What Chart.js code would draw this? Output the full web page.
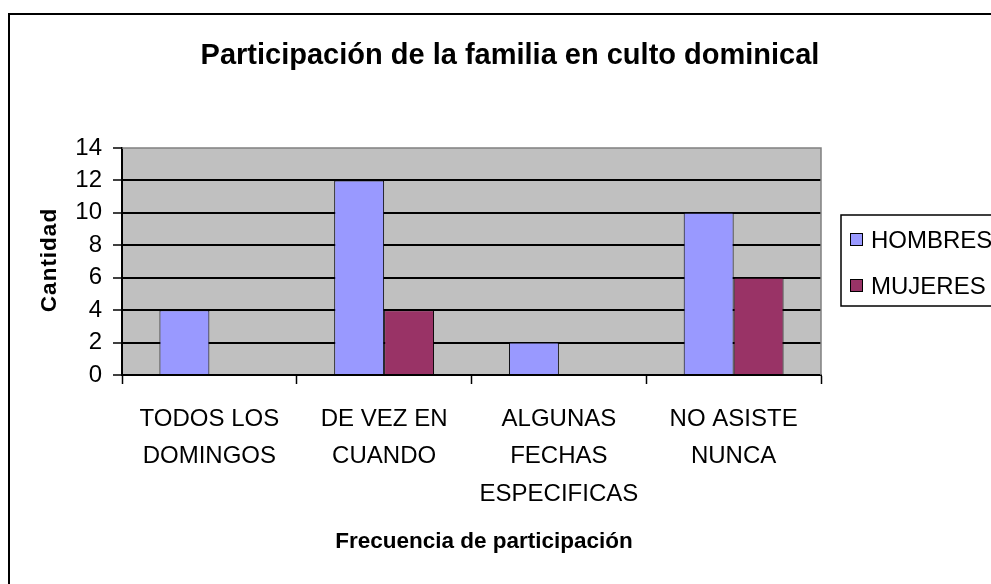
<!DOCTYPE html>
<html>
<head>
<meta charset="utf-8">
<script src="https://cdn.jsdelivr.net/npm/chart.js@4"></script>
<style>
  html, body { margin: 0; padding: 0; background: #fff; }
  #wrap { position: relative; width: 991px; height: 584px; }
</style>
</head>
<body>
<div id="wrap"><canvas id="barChart"></canvas></div>
<script>
/* DATA */
const chartTitle = 'Participación de la familia en culto dominical';
const xTitle = 'Frecuencia de participación';
const yTitle = 'Cantidad';
const categories = [
    ['TODOS LOS', 'DOMINGOS'],
    ['DE VEZ EN', 'CUANDO'],
    ['ALGUNAS', 'FECHAS', 'ESPECIFICAS'],
    ['NO ASISTE', 'NUNCA']
];
const seriesNames = ['HOMBRES', 'MUJERES'];
const hombres = [4, 12, 2, 10];
const mujeres = [0, 4, 0, 6];
const yMin = 0;
const yMax = 14;
const yStep = 2;

/* STYLE */
const colors = ['#9999FF', '#993366'];
const plain = "'Liberation Sans', Arial, sans-serif";

// Excel-like frame, grey plot area, titles and boxed legend
const excelLook = {
    id: 'excelLook',
    beforeDraw(chart) {
        const { ctx, chartArea: a } = chart;
        ctx.save();
        ctx.fillStyle = '#fff';
        ctx.fillRect(0, 0, chart.width, chart.height);
        ctx.fillStyle = '#C0C0C0';
        ctx.fillRect(a.left, a.top, a.right - a.left, a.bottom - a.top);
        ctx.restore();
    },
    afterDraw(chart) {
        const { ctx, chartArea: a } = chart;
        ctx.save();

        // plot area border (top / right)
        ctx.strokeStyle = '#808080';
        ctx.lineWidth = 1.5;
        ctx.beginPath();
        ctx.moveTo(a.left, a.top);
        ctx.lineTo(a.right, a.top);
        ctx.lineTo(a.right, a.bottom);
        ctx.stroke();

        // outer chart frame, runs past the canvas edges
        ctx.strokeStyle = '#000';
        ctx.lineWidth = 2;
        ctx.strokeRect(9, 14, 1100, 1000);

        // title
        ctx.fillStyle = '#000';
        ctx.textAlign = 'center';
        ctx.textBaseline = 'alphabetic';
        ctx.font = `bold 29px ${plain}`;
        ctx.fillText(chartTitle, 510, 64);

        // x axis title
        ctx.font = `bold 22.5px ${plain}`;
        ctx.fillText(xTitle, 484, 548);

        // y axis title
        ctx.save();
        ctx.translate(56, 260);
        ctx.rotate(-Math.PI / 2);
        ctx.letterSpacing = '1px';
        ctx.fillText(yTitle, 0, 0);
        ctx.restore();

        // legend
        ctx.lineWidth = 1.5;
        ctx.strokeRect(841, 215, 300, 91);
        ctx.font = `24px ${plain}`;
        ctx.textAlign = 'left';
        ctx.textBaseline = 'middle';
        const rows = [240, 286];
        chart.data.datasets.forEach((ds, i) => {
            const cy = rows[i];
            ctx.fillStyle = ds.backgroundColor;
            ctx.fillRect(850, cy - 7, 13, 13);
            ctx.lineWidth = 1;
            ctx.strokeStyle = '#000';
            ctx.strokeRect(850.5, cy - 6.5, 12, 12);
            ctx.fillStyle = '#000';
            ctx.fillText(ds.label, 871, cy + 1);
        });

        ctx.restore();
    }
};

function createBarChart() {
    const ctx = document.getElementById('barChart').getContext('2d');
    return new Chart(ctx, {
        type: 'bar',
        data: {
            labels: categories,
            datasets: [
                {
                    label: seriesNames[0],
                    data: hombres,
                    backgroundColor: colors[0],
                    borderColor: '#000',
                    borderWidth: 1,
                },
                {
                    label: seriesNames[1],
                    data: mujeres,
                    backgroundColor: colors[1],
                    borderColor: '#000',
                    borderWidth: 1,
                },
            ],
        },
        options: {
            responsive: true,
            maintainAspectRatio: false,
            animation: false,
            layout: {
                padding: { left: 0, top: 148, right: 170, bottom: 0 },
            },
            datasets: {
                bar: {
                    categoryPercentage: 100 / 175,
                    barPercentage: 1,
                },
            },
            scales: {
                x: {
                    afterFit(scale) { scale.height = 209; },
                    grid: {
                        drawOnChartArea: false,
                        drawTicks: true,
                        tickLength: 9,
                        tickColor: '#000',
                        tickWidth: 1.5,
                    },
                    border: { display: true, color: '#000', width: 2 },
                    ticks: {
                        color: '#000',
                        padding: 17,
                        maxRotation: 0,
                        autoSkip: false,
                        font: { family: plain, size: 24, lineHeight: 1.55 },
                    },
                },
                y: {
                    min: yMin,
                    max: yMax,
                    afterFit(scale) { scale.width = 122; },
                    grid: {
                        color: (c) => (c.tick && (c.tick.value === yMin || c.tick.value === yMax)) ? 'rgba(0,0,0,0)' : '#000',
                        lineWidth: 2,
                        tickLength: 9,
                        tickColor: '#000',
                        tickWidth: 1.5,
                    },
                    border: { display: true, color: '#000', width: 2 },
                    ticks: {
                        stepSize: yStep,
                        autoSkip: false,
                        color: '#000',
                        padding: 11,
                        font: { family: plain, size: 24 },
                    },
                },
            },
            plugins: {
                legend: { display: false },
                title: { display: false },
                tooltip: { enabled: false },
            },
        },
        plugins: [excelLook],
    });
}

createBarChart();
</script>
</body>
</html>
